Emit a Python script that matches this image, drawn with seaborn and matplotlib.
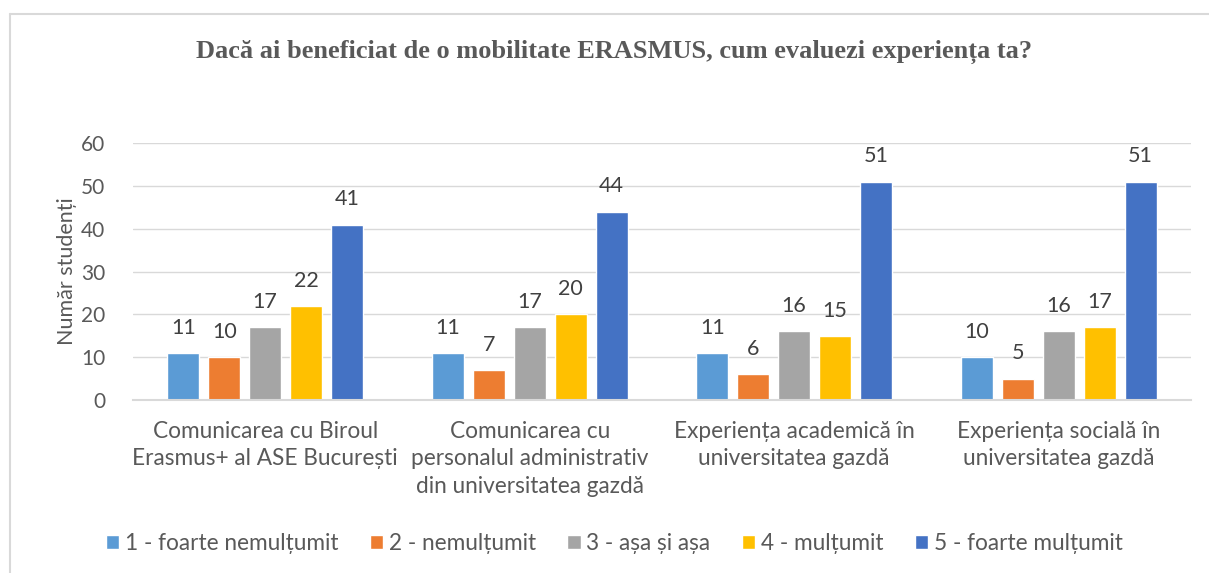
import pandas as pd
import matplotlib.pyplot as plt
import seaborn as sns
from matplotlib.lines import Line2D

# --- DATA ---
categories = [
    "Comunicarea cu Biroul\nErasmus+ al ASE București",
    "Comunicarea cu\npersonalul administrativ\ndin universitatea gazdă",
    "Experiența academică în\nuniversitatea gazdă",
    "Experiența socială în\nuniversitatea gazdă",
]
ratings = [
    "1 - foarte nemulțumit",
    "2 - nemulțumit",
    "3 - așa și așa",
    "4 - mulțumit",
    "5 - foarte mulțumit",
]
r1 = [11, 11, 11, 10]
r2 = [10, 7, 6, 5]
r3 = [17, 17, 16, 16]
r4 = [22, 20, 15, 17]
r5 = [41, 44, 51, 51]
colors = ["#5B9BD5", "#ED7D31", "#A5A5A5", "#FFC000", "#4472C4"]

rows = []
for rating, vals in zip(ratings, [r1, r2, r3, r4, r5]):
    for cat, v in zip(categories, vals):
        rows.append({"cat": cat, "rating": rating, "n": v})
df = pd.DataFrame(rows)

sns.set_style("white")
plt.rcParams['font.family'] = ['Lato', 'DejaVu Sans']
TXT = "#595959"

fig = plt.figure(figsize=(12.09, 5.73), dpi=100)
ax = fig.add_axes([0.110, 0.302, 0.875, 0.448])

sns.barplot(data=df, x="cat", y="n", hue="rating", order=categories,
            hue_order=ratings, palette=colors, width=0.775, gap=0.22,
            saturation=1, ax=ax, legend=True)

for cont in ax.containers:
    ax.bar_label(cont, padding=11, fontsize=15.5, color="#404040")

ax.set_ylim(0, 60)
ax.set_yticks(range(0, 61, 10))
ax.set_xlim(-0.5, 3.5)
ax.yaxis.grid(True, color="#d9d9d9", linewidth=1)
ax.set_axisbelow(True)
for s in ["top", "right", "left"]:
    ax.spines[s].set_visible(False)
ax.spines["bottom"].set_color("#d9d9d9")
ax.spines["bottom"].set_linewidth(1.5)
ax.tick_params(axis="both", length=0, labelcolor=TXT)
ax.tick_params(axis="y", labelsize=15, pad=20)
ax.tick_params(axis="x", labelsize=16.3, pad=15)
for lab in ax.get_xticklabels():
    lab.set_linespacing(1.38)
ax.set_xlabel("")
ax.set_ylabel("Număr studenți", fontsize=15.5, color=TXT, labelpad=3)

handles, labels = ax.get_legend_handles_labels()
ax.legend_.remove()
fig.legend(handles, labels, loc="center", bbox_to_anchor=(0.508, 0.052),
           ncol=5, frameon=False, fontsize=16.3, labelcolor=TXT,
           handlelength=0.6, handleheight=0.6, handletextpad=0.25,
           columnspacing=1.38)

fig.suptitle("Dacă ai beneficiat de o mobilitate ERASMUS, cum evaluezi experiența ta?",
             x=0.508, y=0.93, fontsize=19, fontweight="bold", color=TXT,
             family="Liberation Serif")

# chart frame (top and left edges visible in the reference)
fig.add_artist(Line2D([0.0085, 1.0], [0.976, 0.976], color="#d9d9d9", lw=1.5,
                      transform=fig.transFigure))
fig.add_artist(Line2D([0.0085, 0.0085], [0.0, 0.976], color="#d9d9d9", lw=1.5,
                      transform=fig.transFigure))

fig.savefig("out.png", dpi=100, facecolor="white")
